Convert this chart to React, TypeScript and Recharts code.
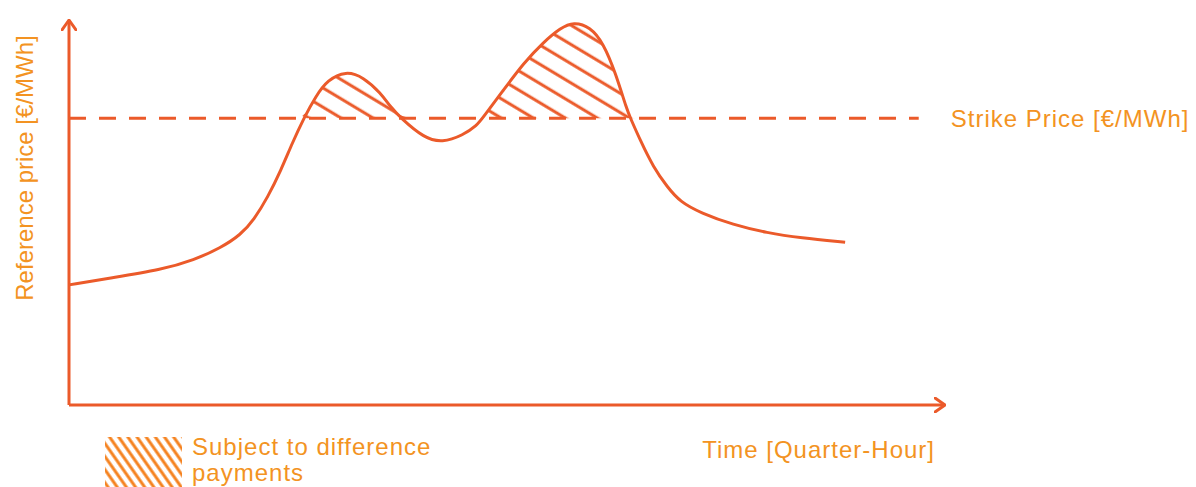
import React from 'react';
import {
  ComposedChart,
  Line,
  Area,
  XAxis,
  YAxis,
  ReferenceLine,
  Label,
  Legend,
} from 'recharts';

// abstract time axis (0..100) and reference price (0..100)
const TIME = [
  0, 4.8, 10.5, 14.3, 17.3, 19.6, 21.1, 22.7, 24.2, 25.5, 26.8, 28.2, 29.5, 31.6, 33.6, 35.6, 36.7, 37.9,
  40.5, 42.6, 45.0, 46.6, 47.2, 49.6, 51.9, 54.2, 56.1, 57.6, 59.5, 61.0, 62.4, 63.7, 64.1, 65.2,
  66.7, 68.3, 69.8, 72.1, 75.8, 79.7, 83.5, 88.6,
];
const PRICE = [
  31.2, 33.0, 35.1, 37.7, 40.8, 44.2, 48.1, 54.0, 61.0, 68.1, 74.5, 80.3, 84.4, 86.8, 85.2, 81.0, 77.4, 74.5,
  69.4, 68.1, 70.1, 72.7, 74.5, 81.8, 88.8, 94.3, 97.9, 99.5, 98.2, 94.0, 86.2, 76.6, 74.5, 68.8,
  61.8, 56.6, 52.7, 49.9, 46.8, 44.7, 43.4, 42.3,
];
const STRIKE = 74.5;
const STRIKE_END = 97;

const LABEL_Y = 'Reference price [€/MWh]';
const LABEL_X = 'Time [Quarter-Hour]';
const LABEL_STRIKE = 'Strike Price [€/MWh]';
const LABEL_LEGEND = 'Subject to difference payments';

const LINE = '#EB5A2A';
const TEXT = '#F39322';
const LEGEND_HATCH = '#F5821F';
const FONT = '"Liberation Sans", Arial, sans-serif';

const data = TIME.map((t, i) => ({
  t,
  price: PRICE[i],
  band: [STRIKE, Math.max(PRICE[i], STRIKE)],
}));

const renderLegend = () => (
  <div style={{ display: 'flex', alignItems: 'flex-start' }}>
    <svg width={77} height={50}>
      <defs>
        <pattern id="legendHatch" patternUnits="userSpaceOnUse" width={10} height={7.5} patternTransform="rotate(55)">
          <line x1={0} y1={3.75} x2={10} y2={3.75} stroke={LEGEND_HATCH} strokeWidth={3} />
        </pattern>
      </defs>
      <rect width={77} height={50} fill="url(#legendHatch)" />
    </svg>
    <div
      style={{
        marginLeft: 10,
        marginTop: -3,
        width: 260,
        fontFamily: FONT,
        fontSize: 24,
        lineHeight: '26px',
        letterSpacing: 1,
        color: TEXT,
      }}
    >
      {LABEL_LEGEND}
    </div>
  </div>
);

const renderYLabel = (props: any) => {
  const vb = props.viewBox;
  const cx = vb.x + 24;
  const cy = 168;
  return (
    <text
      x={cx}
      y={cy}
      transform={`rotate(-90 ${cx} ${cy})`}
      textAnchor="middle"
      dominantBaseline="central"
      fill={TEXT}
      fontSize={24}
      fontFamily={FONT}
    >
      {LABEL_Y}
    </text>
  );
};

const renderXLabel = (props: any) => {
  const vb = props.viewBox;
  return (
    <text
      x={vb.x + vb.width - 10}
      y={vb.y + 53}
      textAnchor="end"
      fill={TEXT}
      fontSize={24}
      letterSpacing={1}
      fontFamily={FONT}
    >
      {LABEL_X}
    </text>
  );
};

const App: React.FC = () => {
  return (
    <div style={{ position: 'absolute', left: 0, top: 0, background: '#fff' }}>
      <ComposedChart width={1196} height={487} data={data} margin={{ top: 20, right: 251, left: 0, bottom: 0 }}>
        <defs>
          <marker
            id="arrow"
            viewBox="0 0 12 16"
            refX={11}
            refY={8}
            markerWidth={12}
            markerHeight={16}
            markerUnits="userSpaceOnUse"
            orient="auto-start-reverse"
          >
            <path d="M1,1 L11,8 L1,15" fill="none" stroke={LINE} strokeWidth={3} strokeLinecap="round" strokeLinejoin="round" />
          </marker>
          <pattern id="hatch" patternUnits="userSpaceOnUse" width={16} height={16.5} patternTransform="rotate(31)">
            <line x1={0} y1={8} x2={16} y2={8} stroke={LINE} strokeWidth={3} />
          </pattern>
        </defs>
        <XAxis
          dataKey="t"
          type="number"
          domain={[0, 100]}
          height={82}
          tick={false}
          tickLine={false}
          axisLine={{ stroke: LINE, strokeWidth: 3, markerEnd: 'url(#arrow)' }}
        >
          <Label content={renderXLabel} />
        </XAxis>
        <YAxis
          type="number"
          domain={[0, 100]}
          width={69}
          tick={false}
          tickLine={false}
          axisLine={{ stroke: LINE, strokeWidth: 3, markerStart: 'url(#arrow)' }}
        >
          <Label content={renderYLabel} />
        </YAxis>
        <Legend
          layout="horizontal"
          verticalAlign="middle"
          align="center"
          content={renderLegend}
          wrapperStyle={{ position: 'absolute', left: 105, top: 437, width: 360, height: 50 }}
        />
        <ReferenceLine
          segment={[
            { x: 0, y: STRIKE },
            { x: STRIKE_END, y: STRIKE },
          ]}
          stroke={LINE}
          strokeWidth={3}
          strokeDasharray="17 13"
          label={{ value: LABEL_STRIKE, position: 'right', offset: 32, fill: TEXT, fontSize: 24, fontFamily: FONT, letterSpacing: 1 }}
        />
        <Area
          type="basis"
          dataKey="band"
          stroke="none"
          fill="url(#hatch)"
          fillOpacity={1}
          isAnimationActive={false}
          activeDot={false}
        />
        <Line
          type="basis"
          dataKey="price"
          stroke={LINE}
          strokeWidth={3}
          dot={false}
          activeDot={false}
          isAnimationActive={false}
        />
      </ComposedChart>
    </div>
  );
};

export default App;
